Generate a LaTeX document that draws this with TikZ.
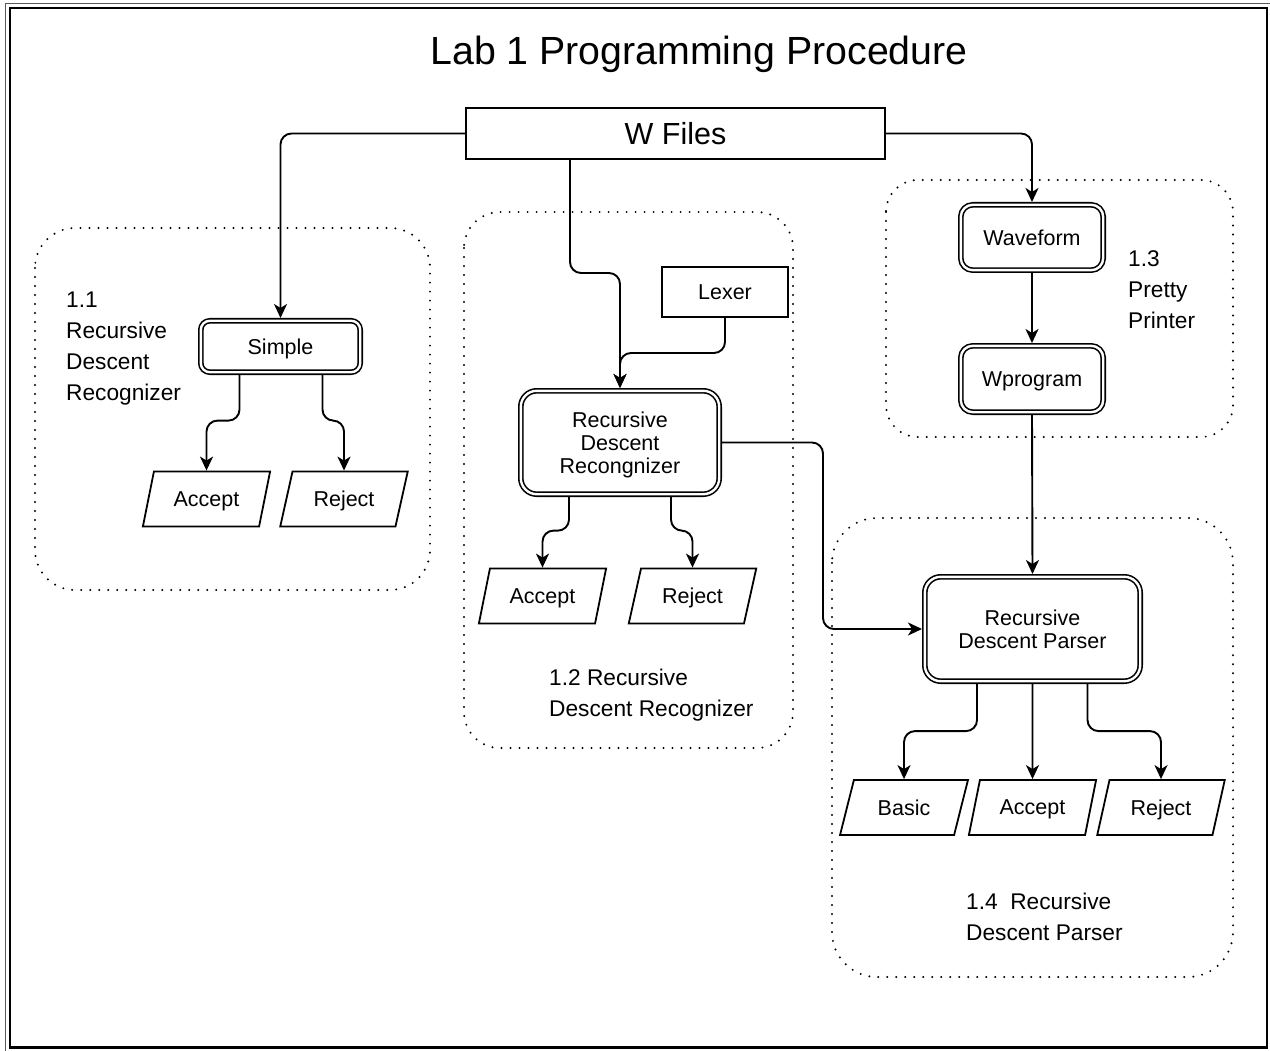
\documentclass[tikz,border=0pt]{standalone}
\usepackage{fontspec}
\setmainfont{Liberation Sans}
\usetikzlibrary{shapes.geometric,arrows.meta,calc}
\begin{document}
\begin{tikzpicture}[x=1pt,y=-1pt,
  arr/.style={draw, line width=1.9pt, rounded corners=11pt, -{Stealth[length=14pt,width=13pt,inset=4pt]}},
  dbl/.style={draw, double, double distance=2.4pt, line width=1.6pt, rounded corners=#1, align=center,
    font=\fontsize{21.5}{23}\selectfont, inner sep=0pt, outer sep=2.8pt, text depth=0pt},
  plainbox/.style={draw, line width=1.9pt, inner sep=0pt, text depth=0pt},
  para/.style={trapezium, draw, line width=1.8pt, trapezium left angle=65, trapezium right angle=115,
    trapezium stretches=true, minimum width=128pt, minimum height=55pt, inner sep=0pt,
    font=\fontsize{21.5}{23}\selectfont, text depth=0pt},
  grp/.style={draw, line width=2.2pt, line cap=round, dash pattern=on 0pt off 9pt, rounded corners=#1},
  lbl/.style={anchor=north west, align=left, inner sep=0pt, font=\fontsize{22.7}{31}\selectfont}
]
\useasboundingbox (0,0) rectangle (1270,1051);
\fill[white] (0,0) rectangle (1270,1051);
% frame
\draw[line width=1.3pt, black!65] (5.5,1070) -- (5.5,3.5) -- (1290,3.5);
\draw[line width=2.4pt] (10,8) rectangle (1267,1047.5);

% groups
\draw[grp=40pt] (35,228) rectangle (430,590);
\draw[grp=36pt] (464,212) rectangle (793,748);
\draw[grp=32pt] (886,180) rectangle (1233,437);
\draw[grp=45pt] (832,518) rectangle (1233,977);

% title
\node[inner sep=0pt, font=\fontsize{39.3}{44}\selectfont] (title) at (699,54) {Lab 1 Programming Procedure};

% nodes
\node[plainbox, minimum width=419pt, minimum height=51pt, font=\fontsize{30.5}{34}\selectfont] (wfiles) at (675.5,133.5) {W Files};
\node[dbl=9pt, minimum width=159.4pt, minimum height=51.4pt] (simple) at (280.5,346.5) {Simple};
\node[para] (acc1) at (206.5,499) {Accept};
\node[para] (rej1) at (344,499) {Reject};

\node[plainbox, minimum width=126pt, minimum height=50pt, font=\fontsize{21.5}{23}\selectfont] (lexer) at (725,292) {Lexer};
\node[dbl=16pt, minimum width=198.4pt, minimum height=103.4pt] (rdr) at (620,442.5) {Recursive\\Descent\\Recongnizer};
\node[para] (acc2) at (542.5,596) {Accept};
\node[para] (rej2) at (692.5,596) {Reject};

\node[dbl=12pt, minimum width=142.4pt, minimum height=65.4pt] (wave) at (1032,237.5) {Waveform};
\node[dbl=12pt, minimum width=142.4pt, minimum height=66.4pt] (wprog) at (1032,379) {Wprogram};

\node[dbl=16pt, minimum width=215.4pt, minimum height=104.4pt] (parser) at (1032.5,629) {Recursive\\Descent Parser};
\node[para] (basic) at (904,807.5) {Basic};
\node[para] (acc3) at (1032.5,807.5) {Accept};
\node[para] (rej3) at (1161,807.5) {Reject};

% labels
\node[lbl] (l11) at (66,292) {1.1\\Recursive\\Descent\\Recognizer};
\node[lbl] (l12) at (549,669) {1.2 Recursive\\Descent Recognizer};
\node[lbl] (l13) at (1128,250) {1.3\\Pretty\\Printer};
\node[lbl] (l14) at (966,893) {1.4\ \ Recursive\\Descent Parser};

% connectors
\draw[arr] (wfiles.west) -| (simple.north);
\draw[arr] (wfiles.east) -| (wave.north);
\draw[arr] ([xshift=-105.5pt]wfiles.south) |- ($(rdr.north)+(0,-115)$) -- (rdr.north);
\draw[arr] (lexer.south) |- ($(rdr.north)+(0,-35)$) -- (rdr.north);

\draw[arr] ([xshift=-41pt]simple.south) |- ($(acc1.north)+(0,-50)$) -- (acc1.north);
\draw[arr] ([xshift=42pt]simple.south) |- ($(rej1.north)+(0,-50)$) -- (rej1.north);

\draw[arr] ([xshift=-51pt]rdr.south) |- ($(acc2.north)+(0,-37)$) -- (acc2.north);
\draw[arr] ([xshift=51pt]rdr.south) |- ($(rej2.north)+(0,-37)$) -- (rej2.north);
\draw[arr] (rdr.east) -| ($(parser.west)+(-99,0)$) -- (parser.west);

\draw[arr] (wave.south) -- (wprog.north);
\draw[arr] (wprog.south) -- (parser.north);

\draw[arr] ([xshift=-55.5pt]parser.south) |- ($(basic.north)+(0,-48)$) -- (basic.north);
\draw[arr] (parser.south) -- (acc3.north);
\draw[arr] ([xshift=55pt]parser.south) |- ($(rej3.north)+(0,-48)$) -- (rej3.north);
\end{tikzpicture}
\end{document}
